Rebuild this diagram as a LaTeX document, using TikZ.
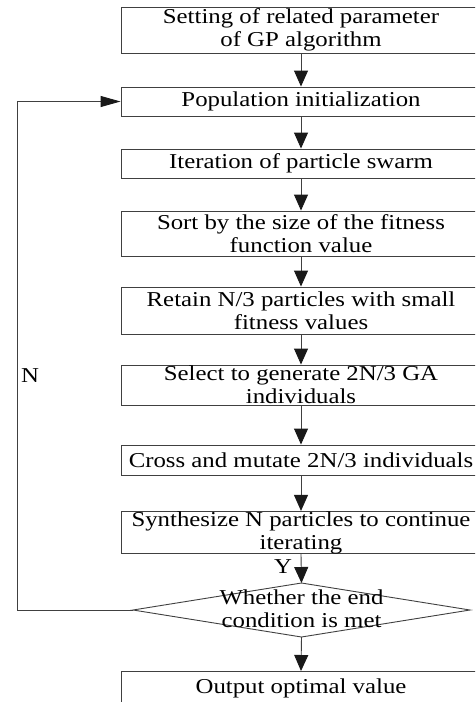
\documentclass[tikz,border=0pt]{standalone}
\usepackage{fontspec}
\setmainfont{Liberation Serif}[FakeStretch=1.17]
\usetikzlibrary{arrows.meta,shapes.geometric}
\tikzset{
  boxstyle/.style={draw=black!75, line width=0.9pt, minimum width=360pt, inner sep=0pt, align=center, font=\fontsize{21.2}{23}\selectfont},
  diaedge/.style={draw=black!75, line width=0.9pt},
  vflow/.style={draw=black!75, line width=0.9pt, -{Triangle[length=16pt,width=14pt,color=black!90]}},
  hflow/.style={draw=black!75, line width=0.9pt, -{Triangle[length=20pt,width=11pt,color=black!90]}},
  lbl/.style={font=\fontsize{21.2}{23}\selectfont, inner sep=0pt, align=center},
}
\begin{document}
\begin{tikzpicture}[x=1pt,y=-1pt]
\useasboundingbox (0,0) rectangle (475,702);
\clip (0,0) rectangle (475,702);
\node[boxstyle, minimum height=46pt] (b1) at (301,30) {Setting of related parameter\\of GP algorithm};
\node[boxstyle, minimum height=29pt] (b2) at (301,101.5) {Population initialization};
\node[boxstyle, minimum height=29pt] (b3) at (301,163.5) {Iteration of particle swarm};
\node[boxstyle, minimum height=45pt] (b4) at (301,233.5) {Sort by the size of the fitness\\function value};
\node[boxstyle, minimum height=47pt] (b5) at (301,310.5) {Retain N/3 particles with small\\fitness values};
\node[boxstyle, minimum height=40pt] (b6) at (301,385) {Select to generate 2N/3 GA\\individuals};
\node[boxstyle, minimum height=30pt] (b7) at (301,460) {Cross and mutate 2N/3 individuals};
\node[boxstyle, minimum height=41pt] (b8) at (301,532.5) {Synthesize N particles to continue\\iterating};
% decision diamond
\coordinate (dt) at (301.5,583);
\coordinate (dr) at (470,610);
\coordinate (db) at (301.5,637);
\coordinate (dl) at (133,610);
\draw[diaedge] (dt) -- (dr) -- (db) -- (dl) -- cycle;
\node[lbl] (d) at (301.5,609) {Whether the end\\condition is met};
\node[boxstyle, minimum height=60pt, anchor=north] (b9) at (301,671) {};
\node[lbl, anchor=north] (b9t) at (301,679) {Output optimal value};
\coordinate (c1) at (17,610);
\coordinate (c2) at (17,101.5);
\draw[vflow] (b1) -- (b2);
\draw[vflow] (b2) -- (b3);
\draw[vflow] (b3) -- (b4);
\draw[vflow] (b4) -- (b5);
\draw[vflow] (b5) -- (b6);
\draw[vflow] (b6) -- (b7);
\draw[vflow] (b7) -- (b8);
\draw[vflow] (b8.south) -- (dt);
\draw[vflow] (db) -- (b9.north);
\draw[hflow] (dl) -- (c1) -- (c2) -- (b2.west);
\node[lbl] (nlab) at (30,376) {N};
\node[lbl] (ylab) at (283,567) {Y};
\end{tikzpicture}
\end{document}
